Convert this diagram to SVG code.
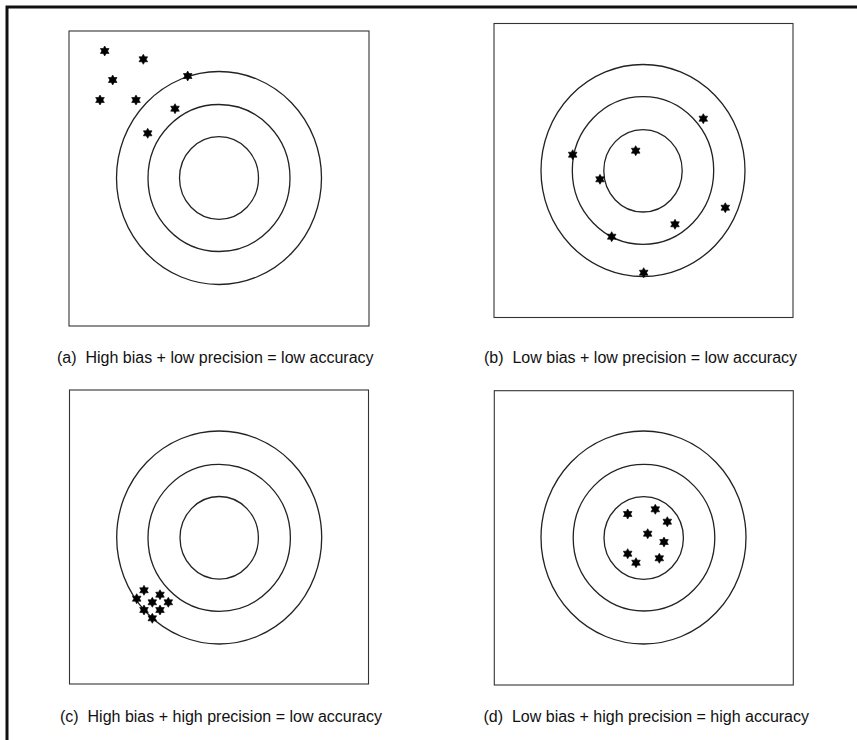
<svg xmlns="http://www.w3.org/2000/svg" xmlns:xlink="http://www.w3.org/1999/xlink" width="857" height="740" viewBox="0 0 857 740">
<style>
.box{fill:none;stroke:#333;stroke-width:1.1}
.ring{fill:none;stroke:#222;stroke-width:1.3}
.lbl{font-family:"Liberation Sans",Arial,sans-serif;font-size:16px;fill:#111;white-space:pre}
.frame{fill:none;stroke:#111;stroke-width:3}
</style>
<defs>
<polygon id="star" fill="#000" stroke="#000" stroke-width="0.6" stroke-linejoin="round" points="0,-5 1.45,-2.5 4.33,-2.5 2.9,0 4.33,2.5 1.45,2.5 0,5 -1.45,2.5 -4.33,2.5 -2.9,0 -4.33,-2.5 -1.45,-2.5"/>
</defs>
<rect width="857" height="740" fill="#fff"/>
<path class="frame" d="M7,742 V7 H860"/>

<g id="panel-a">
<rect class="box" x="69" y="31" width="300" height="295"/>
<ellipse class="ring" cx="219" cy="178" rx="102.5" ry="106.5"/>
<ellipse class="ring" cx="219" cy="178" rx="71" ry="73.5"/>
<ellipse class="ring" cx="219" cy="178" rx="39.5" ry="41.3"/>
<use xlink:href="#star" x="104.7" y="51"/>
<use xlink:href="#star" x="143.3" y="59.3"/>
<use xlink:href="#star" x="112.7" y="80"/>
<use xlink:href="#star" x="187.7" y="76"/>
<use xlink:href="#star" x="100" y="100"/>
<use xlink:href="#star" x="136" y="100"/>
<use xlink:href="#star" x="175" y="108.7"/>
<use xlink:href="#star" x="147.7" y="133.3"/>
<text class="lbl" x="57" y="363" xml:space="preserve">(a)  High bias + low precision = low accuracy</text>
</g>

<g id="panel-b">
<rect class="box" x="494" y="23.5" width="299" height="294"/>
<ellipse class="ring" cx="643" cy="170.5" rx="102" ry="106"/>
<ellipse class="ring" cx="643" cy="170.5" rx="70.7" ry="73.8"/>
<ellipse class="ring" cx="643" cy="170.8" rx="39.2" ry="41.2"/>
<use xlink:href="#star" x="703.3" y="118.7"/>
<use xlink:href="#star" x="572.7" y="154.7"/>
<use xlink:href="#star" x="635.7" y="150.7"/>
<use xlink:href="#star" x="600" y="179.3"/>
<use xlink:href="#star" x="725.3" y="207.7"/>
<use xlink:href="#star" x="675" y="224.3"/>
<use xlink:href="#star" x="611.7" y="236.7"/>
<use xlink:href="#star" x="643.7" y="272.7"/>
<text class="lbl" x="484" y="363" xml:space="preserve">(b)  Low bias + low precision = low accuracy</text>
</g>

<g id="panel-c">
<rect class="box" x="69.5" y="390" width="299" height="294"/>
<ellipse class="ring" cx="219.2" cy="537.5" rx="102.5" ry="106.5"/>
<ellipse class="ring" cx="219.2" cy="537.8" rx="71.2" ry="73.5"/>
<ellipse class="ring" cx="219.2" cy="537.8" rx="39.2" ry="41.3"/>
<use xlink:href="#star" x="144" y="590.3"/>
<use xlink:href="#star" x="160" y="594.7"/>
<use xlink:href="#star" x="136.7" y="598.7"/>
<use xlink:href="#star" x="152.3" y="602.3"/>
<use xlink:href="#star" x="168.3" y="602.3"/>
<use xlink:href="#star" x="144" y="610"/>
<use xlink:href="#star" x="160" y="610"/>
<use xlink:href="#star" x="152.3" y="618.3"/>
<text class="lbl" x="60" y="722" xml:space="preserve">(c)  High bias + high precision = low accuracy</text>
</g>

<g id="panel-d">
<rect class="box" x="494.3" y="390.7" width="299" height="294.3"/>
<ellipse class="ring" cx="643.5" cy="537.5" rx="102.5" ry="106.5"/>
<ellipse class="ring" cx="644" cy="537.7" rx="70.8" ry="73.3"/>
<ellipse class="ring" cx="643.7" cy="538" rx="39.7" ry="41.3"/>
<use xlink:href="#star" x="627.7" y="514"/>
<use xlink:href="#star" x="655.3" y="509.3"/>
<use xlink:href="#star" x="667.3" y="521.7"/>
<use xlink:href="#star" x="647.7" y="533.7"/>
<use xlink:href="#star" x="664" y="542"/>
<use xlink:href="#star" x="627.7" y="553.7"/>
<use xlink:href="#star" x="636" y="562.7"/>
<use xlink:href="#star" x="659.3" y="558.3"/>
<text class="lbl" x="483.5" y="722" xml:space="preserve">(d)  Low bias + high precision = high accuracy</text>
</g>
</svg>
